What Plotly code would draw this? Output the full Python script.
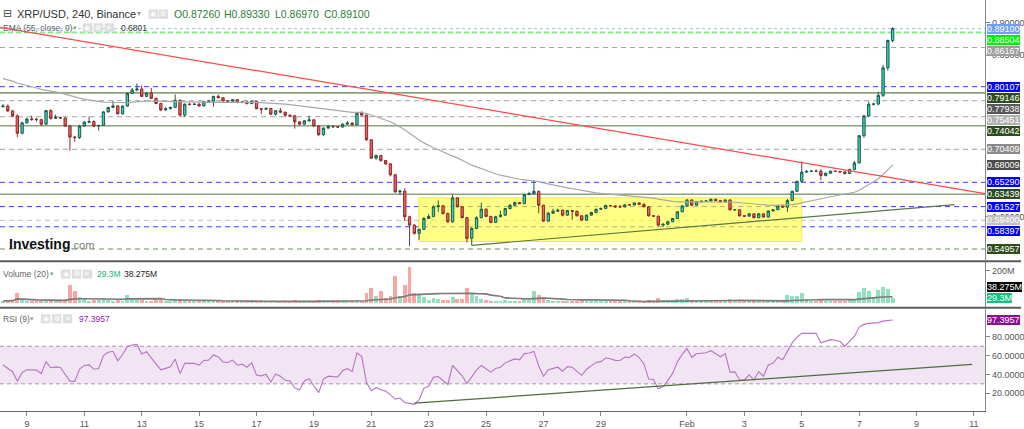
import numpy as np
import pandas as pd
import plotly.graph_objects as go

# ---------------- data ----------------
first_time = "2022-01-08 04:00"
bar_freq = "4h"
first_open = 0.7700

close = [
0.7710,0.7635,0.7560,0.7290,0.7450,0.7510,0.7505,0.7500,0.7430,0.7640,
0.7520,0.7535,0.7525,0.7400,0.7230,0.7222,0.7400,0.7460,0.7470,0.7400,
0.7410,0.7620,0.7690,0.7712,0.7590,0.7710,0.7907,0.7960,0.7975,0.7860,
0.7910,0.7830,0.7750,0.7650,0.7670,0.7690,0.7800,0.7570,0.7740,0.7734,
0.7738,0.7713,0.7780,0.7785,0.7860,0.7840,0.7790,0.7785,0.7810,0.7765,
0.7774,0.7749,0.7785,0.7670,0.7661,0.7672,0.7584,0.7638,0.7615,0.7569,
0.7560,0.7466,0.7430,0.7482,0.7497,0.7400,0.7266,0.7369,0.7395,0.7389,
0.7385,0.7430,0.7446,0.7420,0.7600,0.7570,0.7189,0.6903,0.6943,0.6866,
0.6815,0.6646,0.6380,0.6392,0.5995,0.5866,0.5738,0.5800,0.5969,0.6000,
0.6150,0.6165,0.6046,0.5918,0.6288,0.6150,0.5981,0.5661,0.5815,0.5981,
0.6112,0.6000,0.5907,0.5995,0.6020,0.6123,0.6174,0.6215,0.6200,0.6338,
0.6353,0.6389,0.6174,0.5928,0.6051,0.6081,0.6097,0.6020,0.6092,0.6081,
0.6010,0.5943,0.6020,0.6061,0.6112,0.6123,0.6170,0.6164,0.6149,0.6148,
0.6180,0.6178,0.6210,0.6189,0.6149,0.6010,0.6005,0.5866,0.5880,0.5918,
0.5969,0.6072,0.6164,0.6256,0.6174,0.6226,0.6236,0.6240,0.6267,0.6246,
0.6226,0.6256,0.6103,0.6105,0.6010,0.6005,0.6041,0.5980,0.6041,0.5990,
0.6085,0.6103,0.6164,0.6144,0.6246,0.6389,0.6543,0.6687,0.6697,0.6702,
0.6700,0.6636,0.6670,0.6701,0.6697,0.6690,0.6665,0.6727,0.6830,0.7251,
0.7558,0.7738,0.7742,0.7876,0.8303,0.8726,0.8910]

high = [
0.7740,0.7735,0.7650,0.7580,0.7470,0.7530,0.7560,0.7530,0.7515,0.7650,
0.7660,0.7580,0.7545,0.7535,0.7420,0.7250,0.7420,0.7480,0.7549,0.7490,
0.7420,0.7630,0.7700,0.7790,0.7725,0.7720,0.7920,0.7990,0.8060,0.8030,
0.7925,0.7990,0.7840,0.7760,0.7690,0.7700,0.7890,0.7810,0.7750,0.7760,
0.7760,0.7760,0.7790,0.7800,0.7870,0.7890,0.7850,0.7800,0.7820,0.7820,
0.7790,0.7785,0.7800,0.7790,0.7680,0.7690,0.7680,0.7650,0.7680,0.7625,
0.7580,0.7570,0.7480,0.7490,0.7560,0.7510,0.7410,0.7380,0.7420,0.7410,
0.7400,0.7440,0.7480,0.7460,0.7610,0.7630,0.7580,0.7200,0.6960,0.6950,
0.6870,0.6830,0.6660,0.6415,0.6436,0.6010,0.5880,0.5810,0.5990,0.6040,
0.6170,0.6250,0.6180,0.6060,0.6340,0.6300,0.6160,0.5990,0.5830,0.6000,
0.6215,0.6125,0.6010,0.6010,0.6090,0.6130,0.6190,0.6230,0.6225,0.6345,
0.6380,0.6560,0.6400,0.6180,0.6070,0.6120,0.6120,0.6105,0.6100,0.6100,
0.6090,0.6020,0.6030,0.6070,0.6120,0.6140,0.6180,0.6180,0.6170,0.6180,
0.6190,0.6190,0.6215,0.6215,0.6200,0.6160,0.6020,0.6010,0.5890,0.5925,
0.5975,0.6080,0.6170,0.6265,0.6262,0.6232,0.6245,0.6255,0.6275,0.6275,
0.6252,0.6262,0.6262,0.6115,0.6112,0.6015,0.6048,0.6048,0.6050,0.6048,
0.6095,0.6110,0.6175,0.6170,0.6270,0.6400,0.6555,0.6850,0.6720,0.6720,
0.6730,0.6735,0.6680,0.6710,0.6715,0.6705,0.6700,0.6740,0.6860,0.7260,
0.7570,0.7780,0.7760,0.7930,0.8350,0.8740,0.8933]

low = [
0.7690,0.7620,0.7540,0.7230,0.7270,0.7440,0.7480,0.7470,0.7400,0.7420,
0.7500,0.7510,0.7510,0.7385,0.7020,0.7160,0.7200,0.7390,0.7445,0.7385,
0.7330,0.7400,0.7610,0.7680,0.7580,0.7580,0.7700,0.7900,0.7940,0.7850,
0.7850,0.7820,0.7740,0.7630,0.7640,0.7660,0.7680,0.7550,0.7540,0.7720,
0.7725,0.7700,0.7705,0.7770,0.7700,0.7830,0.7780,0.7775,0.7775,0.7755,
0.7755,0.7735,0.7740,0.7660,0.7590,0.7650,0.7575,0.7560,0.7600,0.7540,
0.7545,0.7360,0.7410,0.7420,0.7470,0.7390,0.7250,0.7250,0.7360,0.7375,
0.7370,0.7375,0.7420,0.7410,0.7410,0.7560,0.7170,0.6890,0.6880,0.6850,
0.6800,0.6620,0.6370,0.6335,0.5930,0.5540,0.5720,0.5640,0.5790,0.5960,
0.5990,0.6070,0.6030,0.5900,0.5900,0.6140,0.5970,0.5600,0.5553,0.5800,
0.5970,0.5990,0.5895,0.5900,0.5990,0.6010,0.6110,0.6160,0.6190,0.6190,
0.6330,0.6345,0.6050,0.5915,0.5920,0.6040,0.6075,0.6000,0.6010,0.5950,
0.6000,0.5930,0.5935,0.6010,0.6050,0.6100,0.6115,0.6150,0.6130,0.6140,
0.6140,0.6165,0.6170,0.6180,0.6140,0.6000,0.5990,0.5850,0.5835,0.5870,
0.5910,0.5960,0.6065,0.6150,0.6165,0.6170,0.6220,0.6230,0.6232,0.6240,
0.6220,0.6220,0.6095,0.6095,0.6000,0.5995,0.5998,0.5970,0.5975,0.5985,
0.5985,0.6080,0.6100,0.6138,0.6070,0.6240,0.6380,0.6540,0.6680,0.6690,
0.6690,0.6560,0.6620,0.6660,0.6690,0.6680,0.6650,0.6655,0.6720,0.6820,
0.7220,0.7540,0.7720,0.7720,0.7850,0.8260,0.8697]

volume_m = [
12,15,14,58,25,10,8,6,7,12,
14,11,5,20,113,72,35,25,12,20,
15,30,14,10,16,12,47,22,18,20,
10,12,14,16,8,7,25,22,14,8,
7,9,10,8,12,9,7,6,8,7,
6,8,9,12,10,8,12,9,8,10,
8,18,9,8,10,12,20,14,8,7,
6,8,7,8,20,12,62,93,41,72,
30,45,165,40,113,222,60,51,35,20,
30,25,18,20,35,22,25,93,62,41,
25,14,12,10,9,14,12,10,8,25,
20,72,51,35,20,12,9,10,8,9,
11,14,10,9,12,8,10,7,6,5,
8,6,9,7,8,20,10,31,15,14,
18,22,25,28,14,9,8,7,10,8,
9,10,22,8,18,7,8,12,9,10,
14,8,16,9,51,45,40,60,25,12,
10,18,12,10,8,9,10,15,25,65,
90,70,35,80,95,88,29.3]

ema_len = 55
ema_seed = 0.815
rsi_len = 9
rsi_seed_avg = 0.006
vol_ma_len = 20

# horizontal levels drawn on the price pane
level_prices = [0.89100, 0.88504, 0.86167, 0.80107, 0.79146, 0.77938, 0.75451,
                0.74042, 0.70409, 0.65290, 0.63439, 0.61527, 0.59400, 0.58397, 0.54957]
level_kinds = ["last", "lime_dash", "grey_dash", "blue_dash", "green_solid", "grey_dash",
               "grey_dash", "green_solid", "grey_dash", "blue_dash", "green_solid",
               "blue_dash", "lgrey_dash", "blue_dash", "olive_dash"]
level_label_bg = ["#6f9ef2", "#00ee00", "#9e9e9e", "#0000ff", "#2e4d1f", "#585858",
                  "#b0b0b0", "#2e4d1f", "#8a8a8a", "#0000ff", "#2e4d1f", "#0000ff",
                  "#c2c2c2", "#0000ff", "#2e4d1f"]
ema_label_value = 0.68009
vol_label_values = [38.275, 29.3]
vol_label_text = ["38.275M", "29.3M"]
rsi_label_value = 97.3957

# drawings
red_trend_t = ["2022-01-08 01:30", "2022-02-11 09:20"]
red_trend_p = [0.8930, 0.6354]
green_trend_t = ["2022-01-24 12:00", "2022-02-10 07:50"]
green_trend_p = [0.5553, 0.6184]
rsi_trend_t = ["2022-01-22 12:00", "2022-02-10 22:30"]
rsi_trend_v = [9.4, 50.6]
box_t = ["2022-01-22 15:45", "2022-02-05 00:00"]
box_p = [0.5611, 0.6288]

x_range = ["2022-01-08 01:30", "2022-02-11 09:20"]
x_tick_dates = ["2022-01-09", "2022-01-11", "2022-01-13", "2022-01-15", "2022-01-17",
                "2022-01-19", "2022-01-21", "2022-01-23", "2022-01-25", "2022-01-27",
                "2022-01-29", "2022-02-01", "2022-02-03", "2022-02-05", "2022-02-07",
                "2022-02-09", "2022-02-11"]
x_tick_text = ["9", "11", "13", "15", "17", "19", "21", "23", "25", "27", "29",
               "Feb", "3", "5", "7", "9", "11"]
price_ticks = [0.60, 0.85, 0.90]          # the price-scale ticks left visible between the labels
vol_ticks = [200]
rsi_ticks = [20, 40, 60, 80]

# ---------------- derived ----------------
n = len(close)
for name, arr in (("high", high), ("low", low), ("volume", volume_m)):
    if len(arr) != n:
        raise SystemExit(f"{name} has {len(arr)} values, close has {n}")
times = pd.date_range(first_time, periods=n, freq=bar_freq)
opens = [first_open] + close[:-1]
up = [c >= o for o, c in zip(opens, close)]

alpha = 2.0 / (ema_len + 1)
ema, e = [], ema_seed
for c in close:
    e = e + alpha * (c - e)
    ema.append(e)

rsi, ag, al = [50.0], rsi_seed_avg, rsi_seed_avg
for d in np.diff(close):
    ag = (ag * (rsi_len - 1) + max(d, 0)) / rsi_len
    al = (al * (rsi_len - 1) + max(-d, 0)) / rsi_len
    rsi.append(100 - 100 / (1 + ag / al) if al > 0 else 100)

vol_ma = pd.Series(volume_m).rolling(vol_ma_len, min_periods=1).mean().tolist()

# ---------------- geometry (pixels of a 1024 x 429 canvas) ----------------
W, H = 1024, 429
PLOT_R = 988
MAIN = (0, 262)
VOL = (264, 309)
RSIP = (311, 414)
main_top, main_bot = 0.93535, 0.53227
vol_px_per_m = 32.3 / 200.0
vol_base_px = 305
vol_range = [-(VOL[1] - vol_base_px) / vol_px_per_m, (vol_base_px - VOL[0]) / vol_px_per_m]
rsi_range = [1.0, 109.8]


def px(x):
    return x / W


def py(y):
    return 1 - y / H


def main_px(p):
    return MAIN[0] + (main_top - p) / (main_top - main_bot) * (MAIN[1] - MAIN[0])


def vol_px(v):
    return VOL[0] + (vol_range[1] - v) / (vol_range[1] - vol_range[0]) * (VOL[1] - VOL[0])


def rsi_px(v):
    return RSIP[0] + (rsi_range[1] - v) / (rsi_range[1] - rsi_range[0]) * (RSIP[1] - RSIP[0])


FONT = "Liberation Sans, Arial, sans-serif"
fig = go.Figure()

fig.add_trace(go.Candlestick(
    x=times, open=opens, high=high, low=low, close=close,
    increasing=dict(line=dict(color="#1e5a45", width=1), fillcolor="#33d4c6"),
    decreasing=dict(line=dict(color="#8c2a2a", width=1), fillcolor="#f0625d"),
    xaxis="x", yaxis="y", hoverinfo="skip", whiskerwidth=0))
fig.add_trace(go.Scatter(x=times, y=ema, mode="lines", line=dict(color="#a8a8a8", width=1.2),
                         xaxis="x", yaxis="y", hoverinfo="skip"))
fig.add_trace(go.Scatter(x=red_trend_t, y=red_trend_p, mode="lines",
                         line=dict(color="#ff4a4a", width=1.2), xaxis="x", yaxis="y", hoverinfo="skip"))
fig.add_trace(go.Scatter(x=green_trend_t, y=green_trend_p, mode="lines",
                         line=dict(color="#557a45", width=1.2), xaxis="x", yaxis="y", hoverinfo="skip"))

vol_colors = ["#92e0c0" if u else "#f7a6a3" for u in up]
fig.add_trace(go.Bar(x=times, y=volume_m, marker=dict(color=vol_colors, line=dict(width=0)),
                     width=4 * 3600 * 1000 * 0.8, xaxis="x2", yaxis="y2", hoverinfo="skip"))
fig.add_trace(go.Scatter(x=times, y=vol_ma, mode="lines", line=dict(color="#7a7a7a", width=1.6),
                         xaxis="x2", yaxis="y2", hoverinfo="skip"))

fig.add_trace(go.Scatter(x=times, y=rsi, mode="lines", line=dict(color="#b872c6", width=1.1),
                         xaxis="x3", yaxis="y3", hoverinfo="skip"))
fig.add_trace(go.Scatter(x=rsi_trend_t, y=rsi_trend_v, mode="lines",
                         line=dict(color="#4d6e3d", width=1.3), xaxis="x3", yaxis="y3", hoverinfo="skip"))

shapes = []
# yellow zone
shapes.append(dict(type="rect", xref="x", yref="y", x0=box_t[0], x1=box_t[1], y0=box_p[0], y1=box_p[1],
                   fillcolor="rgba(255,255,60,0.62)", line=dict(color="rgba(240,230,60,0.9)", width=1),
                   layer="below"))
level_style = {
    "last": dict(color="#aab6ff", width=1, dash="dot"),
    "lime_dash": dict(color="#80f080", width=2, dash="5px,3px"),
    "grey_dash": dict(color="#a2a2a2", width=1, dash="5px,4px"),
    "lgrey_dash": dict(color="#bdbdbd", width=1, dash="5px,4px"),
    "blue_dash": dict(color="#3a3aff", width=1, dash="5px,4px"),
    "green_solid": dict(color="#8aa37c", width=1.6, dash="solid"),
    "olive_dash": dict(color="#6d8d5d", width=1, dash="5px,4px"),
}
for p, k in zip(level_prices, level_kinds):
    shapes.append(dict(type="line", xref="x domain", yref="y", x0=0, x1=1, y0=p, y1=p,
                       line=level_style[k], layer="below"))
# RSI band
shapes.append(dict(type="rect", xref="x3 domain", yref="y3", x0=0, x1=1, y0=30, y1=70,
                   fillcolor="#f2e5f3", line=dict(width=0), layer="below"))
for v in (30, 70):
    shapes.append(dict(type="line", xref="x3 domain", yref="y3", x0=0, x1=1, y0=v, y1=v,
                       line=dict(color="#a596aa", width=1, dash="4px,3px"), layer="below"))
# pane separators
for yy in (263, 310):
    shapes.append(dict(type="line", xref="paper", yref="paper", x0=0, x1=1, y0=py(yy), y1=py(yy),
                       line=dict(color="#5c5c5c", width=2)))
# header icons
icon_rows = [((149, 159), 9.5, 19), ((83, 94, 105), 23.5, 32.5), ((61, 72, 83), 271.5, 280.5),
             ((41, 52, 63), 316.5, 325.5)]
for xs, y0, y1 in icon_rows:
    for x0 in xs:
        shapes.append(dict(type="rect", xref="paper", yref="paper", x0=px(x0), x1=px(x0 + 9.5),
                           y0=py(y1), y1=py(y0), fillcolor="#dedede", line=dict(width=0)))

annotations = []


def ann(x, y, text, size=9, color="#555", bg=None, xanchor="left", family=FONT, pad=0):
    d = dict(xref="paper", yref="paper", x=px(x), y=py(y), text=text, showarrow=False,
             xanchor=xanchor, yanchor="middle", font=dict(family=family, size=size, color=color),
             borderpad=pad, borderwidth=0)
    if bg:
        d["bgcolor"] = bg
    annotations.append(d)


# icon glyphs
for xs, y0, y1 in icon_rows:
    for x0, g in zip(xs, ("◉", "⚙", "✕")):
        ann(x0 + 4.75, (y0 + y1) / 2, g, size=7, color="#ffffff", xanchor="center",
            family="DejaVu Sans")

# main header
ann(3, 14, "⊟", size=11, color="#444", family="DejaVu Sans")
ann(17, 14, "XRP/USD, 240, Binance", size=11, color="#333")
ann(137, 14, "▾", size=8, color="#999", family="DejaVu Sans")
o, h, l, c = opens[-1], high[-1], low[-1], close[-1]
for x0, lab, val in ((175, "O", o), (225, "H", h), (276, "L", l), (325, "C", c)):
    ann(x0, 14, f"{lab}{val:.5f}", size=10.5, color="#2f7d3a")
# EMA row
ann(3, 28, f"EMA ({ema_len}, close, 0)", size=8.5, color="#666")
ann(73, 28, "▾", size=7, color="#999", family="DejaVu Sans")
ann(121, 28, f"{ema_label_value:.4f}", size=8.5, color="#333")
# volume row
ann(3, 276, f"Volume ({vol_ma_len})", size=8.5, color="#666")
ann(50, 276, "▾", size=7, color="#999", family="DejaVu Sans")
ann(97, 276, vol_label_text[1], size=8.5, color="#17b47a")
ann(124, 276, vol_label_text[0], size=8.5, color="#222")
# rsi row
ann(3, 321, f"RSI ({rsi_len})", size=8.5, color="#666")
ann(30, 321, "▾", size=7, color="#999", family="DejaVu Sans")
ann(79, 321, f"{rsi_label_value:.4f}", size=8.5, color="#8e24aa")
# logo
ann(9, 246, "<b>Investing</b><span style='font-size:11px;color:#777'>.com</span>", size=14,
    color="#111")

# price-scale labels (pushed apart like the original's)
lab_items = [(p, bg) for p, bg in zip(level_prices, level_label_bg)] + [(ema_label_value, "#4b4b4b")]
lab_items.sort(key=lambda t: -t[0])
prev = -1e9
LAB_H = 11.2
for p, bg in lab_items:
    yy = max(main_px(p), prev + LAB_H)
    prev = yy
    ann(PLOT_R + 2, yy, f"{p:.5f}", size=9, color="#ffffff", bg=bg, pad=0)

vprev = 1e9
for v, t, bg in sorted(zip(vol_label_values, vol_label_text, ["#000000", "#12c27f"])):
    yy = min(vol_px(v), vprev - LAB_H)
    vprev = yy
    ann(PLOT_R + 2, yy, t, size=9, color="#ffffff", bg=bg, pad=0)
ann(PLOT_R + 2, rsi_px(rsi_label_value), f"{rsi_label_value:.4f}", size=9, color="#ffffff",
    bg="#8a0f8f", pad=0)

tickfont = dict(family=FONT, size=9, color="#555")
xdom = [0, PLOT_R / W]
common_y = dict(side="right", showgrid=False, zeroline=False, ticks="outside", ticklen=4,
                tickcolor="#888", showline=True, linecolor="#8a8a8a", linewidth=1,
                tickfont=tickfont, fixedrange=True)

fig.update_layout(
    width=W, height=H, autosize=False, margin=dict(l=0, r=0, t=0, b=0),
    paper_bgcolor="#ffffff", plot_bgcolor="#ffffff", showlegend=False, hovermode=False,
    bargap=0,
    xaxis=dict(domain=xdom, anchor="y", type="date", range=x_range, showticklabels=False,
               showgrid=False, zeroline=False, rangeslider=dict(visible=False), fixedrange=True),
    xaxis2=dict(domain=xdom, anchor="y2", type="date", range=x_range, matches="x",
                showticklabels=False, showgrid=False, zeroline=False, fixedrange=True),
    xaxis3=dict(domain=xdom, anchor="y3", type="date", range=x_range, matches="x",
                tickvals=x_tick_dates, ticktext=x_tick_text, ticks="outside", ticklen=4,
                tickcolor="#888", showline=True, linecolor="#666", linewidth=1,
                tickfont=tickfont, showgrid=False, zeroline=False, fixedrange=True),
    yaxis=dict(domain=[py(MAIN[1]), py(MAIN[0])], anchor="x", range=[main_bot, main_top],
               tickvals=price_ticks, ticktext=[f"{v:.5f}" for v in price_ticks], **common_y),
    yaxis2=dict(domain=[py(VOL[1]), py(VOL[0])], anchor="x2", range=vol_range,
                tickvals=vol_ticks, ticktext=[f"{v}M" for v in vol_ticks], **common_y),
    yaxis3=dict(domain=[py(RSIP[1]), py(RSIP[0])], anchor="x3", range=rsi_range,
                tickvals=rsi_ticks, ticktext=[f"{v:.4f}" for v in rsi_ticks], **common_y),
    shapes=shapes, annotations=annotations,
)

fig.write_html("out.html", config={"displayModeBar": False, "responsive": False},
               post_script="document.body.style.margin='0';document.body.style.overflow='hidden';")
